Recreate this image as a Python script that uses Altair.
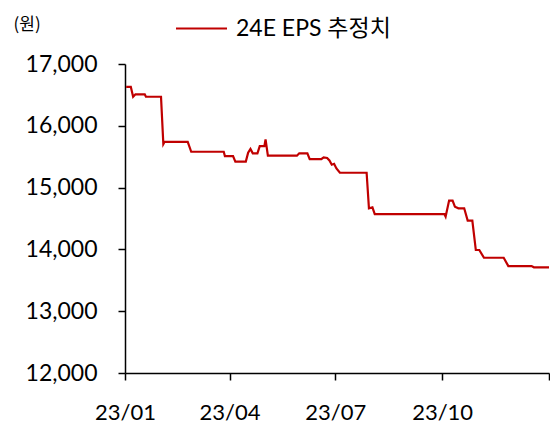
import altair as alt
import pandas as pd

dates = [
    "2023-01-02", "2023-01-06", "2023-01-08", "2023-01-10", "2023-01-18", "2023-01-19",
    "2023-02-01", "2023-02-03", "2023-02-04", "2023-02-24", "2023-02-27", "2023-03-27",
    "2023-03-28", "2023-04-04", "2023-04-06", "2023-04-15", "2023-04-17", "2023-04-19",
    "2023-04-21", "2023-04-25", "2023-04-27", "2023-05-01", "2023-05-02", "2023-05-04",
    "2023-05-29", "2023-05-31", "2023-06-07", "2023-06-09", "2023-06-19", "2023-06-21",
    "2023-06-24", "2023-06-26", "2023-06-28", "2023-06-30", "2023-07-02", "2023-07-05",
    "2023-07-28", "2023-07-30", "2023-08-02", "2023-08-04", "2023-10-03", "2023-10-04",
    "2023-10-07", "2023-10-10", "2023-10-12", "2023-10-15", "2023-10-20", "2023-10-23",
    "2023-10-27", "2023-10-30", "2023-11-02", "2023-11-06", "2023-11-23", "2023-11-27",
    "2023-12-17", "2023-12-19", "2024-01-01",
]
eps = [
    16630, 16630, 16470, 16510, 16510, 16470,
    16470, 15705, 15740, 15740, 15580, 15580,
    15510, 15510, 15420, 15420, 15565, 15625,
    15555, 15555, 15670, 15670, 15780, 15516,
    15516, 15555, 15555, 15460, 15460, 15490,
    15480, 15440, 15370, 15385, 15310, 15240,
    15240, 14665, 14680, 14570, 14570, 14530,
    14790, 14790, 14690, 14665, 14665, 14465,
    14465, 13990, 13990, 13865, 13865, 13730,
    13730, 13710, 13710,
]
series_name = "24E EPS 추정치"
x_ticks = ["2023-01-01", "2023-04-01", "2023-07-01", "2023-10-01", "2024-01-01"]
y_ticks = [12000, 13000, 14000, 15000, 16000, 17000]

df = pd.DataFrame({"date": pd.to_datetime(dates), "eps": eps, "series": series_name})

font = "Lato, Noto Sans CJK KR"

chart = alt.Chart(df).mark_line(strokeWidth=2.2, interpolate="linear").encode(
    x=alt.X(
        "date:T",
        scale=alt.Scale(domain=["2023-01-01", "2024-01-01"]),
        axis=alt.Axis(
            values=x_ticks,
            format="%y/%m",
            labelExpr="year(datum.value) >= 2024 ? '' : datum.label",
            labelFlush=False,
            labelAlign="center",
            title=None,
            grid=False,
            domainColor="black",
            domainWidth=1.5,
            tickColor="black",
            tickWidth=1.5,
            tickSize=7,
            labelFontSize=22,
            labelFont=font,
            labelColor="black",
            labelPadding=22,
        ),
    ),
    y=alt.Y(
        "eps:Q",
        scale=alt.Scale(domain=[12000, 17000], nice=False, zero=False),
        axis=alt.Axis(
            values=y_ticks,
            format=",d",
            title="(원)",
            titleAngle=0,
            titleAlign="left",
            titleBaseline="middle",
            titleX=-112,
            titleY=-40,
            titleFont="Noto Sans CJK KR",
            titleFontSize=17,
            titleFontWeight="normal",
            titleColor="black",
            grid=False,
            domainColor="black",
            domainWidth=1.5,
            tickColor="black",
            tickWidth=1.5,
            tickSize=7,
            labelFontSize=23,
            labelFont=font,
            labelColor="black",
            labelPadding=21,
        ),
    ),
    color=alt.Color(
        "series:N",
        scale=alt.Scale(range=["#C00000"]),
        legend=alt.Legend(
            title=None,
            orient="none",
            legendX=50,
            legendY=-62,
            symbolType="stroke",
            symbolSize=2601,
            symbolStrokeWidth=2,
            labelFont=font,
            labelFontSize=23,
            labelColor="black",
            labelOffset=8,
        ),
    ),
).properties(
    width=424,
    height=309,
    autosize=alt.AutoSizeParams(type="none"),
    padding={"left": 117, "top": 56, "right": 1, "bottom": 50},
).configure_view(stroke=None)

chart.save("out.html", embed_options={"renderer": "svg", "actions": False})
